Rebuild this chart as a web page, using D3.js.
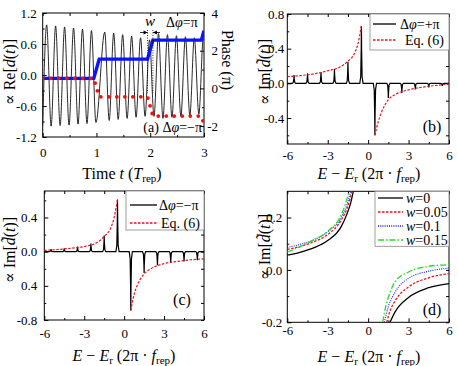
<!DOCTYPE html>
<html>
<head>
<meta charset="utf-8">
<script src="https://cdn.jsdelivr.net/npm/d3@7"></script>
<style>
  body { margin: 0; background: #fff; }
  svg { display: block; }
</style>
</head>
<body>
<svg id="fig" width="458" height="366"></svg>
<script>
// ---- panel (a): time trace, extrema of Re[d(t)]
const aTime = [0, 0.074, 0.157, 0.24, 0.324, 0.407, 0.49, 0.574, 0.657, 0.74, 0.824, 0.907, 0.99,
  1.154, 1.237, 1.32, 1.404, 1.487, 1.57, 1.654, 1.737, 1.82, 1.904, 1.987, 2.07,
  2.154, 2.237, 2.32, 2.404, 2.487, 2.57, 2.654, 2.737, 2.82, 2.904, 2.987, 3.0];
const aRe = [-0.98, 0.97, -0.99, 0.95, -0.98, 0.93, -0.97, 0.91, -0.95, 0.89, -0.94, 0.86, -0.92,
  0.83, -0.88, 0.81, -0.86, 0.78, -0.84, 0.75, -0.82, 0.72, -0.8, 0.68, -0.8,
  0.8, -0.84, 0.78, -0.82, 0.76, -0.8, 0.74, -0.78, 0.72, -0.76, 0.7, 0.68];
const phaseTime = [0, 0.95, 1.05, 1.95, 2.05, 2.95, 3.0];
const phasePlus = [0.53, 0.53, 1.55, 1.55, 2.56, 2.56, 3.06];
const phaseMinus = [0.53, 0.53, -0.45, -0.45, -1.47, -1.47, -1.9];
const tTicks = [0, 1, 2, 3];
const reTicks = [-1.2, -0.6, 0, 0.6, 1.2];
const reTickLabels = ["-1.2", "-0.6", "0.0", "0.6", "1.2"];
const phaseTicks = [-2, 0, 2, 4];
const phaseTickLabels = ["-2", "0", "2", "4"];

// ---- panels (b),(c): spike positions and heights, Eq. (6) curve samples
const spikeE = [-5.5, -4.5, -3.5, -2.5, -1.5, -0.5, 0.5, 1.5, 2.5, 3.5, 4.5, 5.5];
const spikeB = [0.095, 0.115, 0.13, 0.165, 0.25, 0.66, -0.6, -0.17, -0.11, -0.07, -0.046, -0.03];
const spikeC = [0.03, 0.04, 0.06, 0.095, 0.19, 0.61, -0.69, -0.25, -0.16, -0.13, -0.115, -0.1];
const eqLeftE = [-6, -5, -4, -3, -2, -1.5, -1, -0.75, -0.5];
const eqRightE = [0.5, 0.75, 1, 1.5, 2, 3, 4, 5, 6];
const eqBLeft = [0.078, 0.09, 0.11, 0.145, 0.195, 0.255, 0.35, 0.46, 0.67];
const eqBRight = [-0.6, -0.44, -0.33, -0.19, -0.13, -0.075, -0.045, -0.025, -0.01];
const eqCLeft = [0.015, 0.025, 0.04, 0.06, 0.11, 0.18, 0.28, 0.4, 0.61];
const eqCRight = [-0.69, -0.5, -0.39, -0.26, -0.2, -0.14, -0.115, -0.095, -0.085];

// ---- panel (d): four widths w
const wLabels = ["0", "0.05", "0.1", "0.15"];
const dLeftE = [
  [-6, -5, -4, -3, -2, -1.6, -1.3, -1.1],
  [-6, -5, -4, -3, -2, -1.5, -1.2],
  [-6, -5, -4, -3, -2, -1.6, -1.3],
  [-6, -5, -4, -3, -2, -1.7, -1.42]
];
const dLeftV = [
  [0.056, 0.068, 0.085, 0.112, 0.165, 0.21, 0.255, 0.3],
  [0.078, 0.09, 0.108, 0.135, 0.19, 0.245, 0.3],
  [0.086, 0.098, 0.116, 0.145, 0.2, 0.245, 0.3],
  [0.068, 0.09, 0.115, 0.148, 0.21, 0.25, 0.3]
];
const dRightE = [
  [1.62, 2, 3, 4.5, 6],
  [1.38, 1.6, 2, 3, 4.5, 6],
  [1.2, 1.5, 2, 3, 4.5, 6],
  [1.08, 1.3, 1.6, 2, 3, 4.5, 6]
];
const dRightV = [
  [-0.2, -0.16, -0.105, -0.068, -0.052],
  [-0.2, -0.16, -0.118, -0.065, -0.03, -0.014],
  [-0.2, -0.14, -0.085, -0.032, -0.005, 0.007],
  [-0.2, -0.14, -0.09, -0.045, -0.008, 0.014, 0.02]
];

const eTicks = [-6, -3, 0, 3, 6];
const eTickLabels = ["-6", "-3", "0", "3", "6"];
const eMinor = [-4.5, -1.5, 1.5, 4.5];

const FONT = "'Liberation Serif', 'DejaVu Serif', serif";
const svg = d3.select("#fig");
svg.append("rect").attr("width", 458).attr("height", 366).attr("fill", "#fff");

const RED = "#e8141c";

// frame with inward ticks on all sides
function frame(g, x, y, o) {
  const [x0, x1] = x.range(), [y0, y1] = y.range();
  const clean = s => s.select(".domain").remove();
  g.append("g").attr("transform", `translate(0,${y0})`)
    .call(d3.axisBottom(x).tickValues(o.xt).tickSize(-4).tickPadding(o.xPad).tickFormat((d, i) => o.xl[i])).call(clean);
  g.append("g").attr("transform", `translate(0,${y0})`)
    .call(d3.axisBottom(x).tickValues(o.xm).tickSize(-2).tickFormat("")).call(clean);
  g.append("g").attr("transform", `translate(0,${y1})`)
    .call(d3.axisTop(x).tickValues(o.xt.concat(o.xm)).tickSize(-3).tickFormat("")).call(clean);
  g.append("g").attr("transform", `translate(${x0},0)`)
    .call(d3.axisLeft(y).tickValues(o.yt).tickSize(-4).tickPadding(o.yPad).tickFormat((d, i) => o.yl[i])).call(clean);
  g.append("g").attr("transform", `translate(${x0},0)`)
    .call(d3.axisLeft(y).tickValues(o.ym).tickSize(-2).tickFormat("")).call(clean);
  if (!o.noRight) {
    g.append("g").attr("transform", `translate(${x1},0)`)
      .call(d3.axisRight(y).tickValues(o.yt.concat(o.ym)).tickSize(-3).tickFormat("")).call(clean);
  }
  g.append("rect").attr("x", x0).attr("y", y1).attr("width", x1 - x0).attr("height", y0 - y1)
    .attr("fill", "none").attr("stroke", "#000").attr("stroke-width", 1);
}

function clip(id, x, y) {
  const [x0, x1] = x.range(), [y0, y1] = y.range();
  svg.append("clipPath").attr("id", id).append("rect")
    .attr("x", x0).attr("y", y1).attr("width", x1 - x0).attr("height", y0 - y1);
  return `url(#${id})`;
}

function eLabel(g, cx, cy) {
  const t = g.append("text").attr("x", cx).attr("y", cy).attr("text-anchor", "middle").attr("font-size", 16);
  t.append("tspan").attr("font-style", "italic").text("E");
  t.append("tspan").text(" − ");
  t.append("tspan").attr("font-style", "italic").text("E");
  t.append("tspan").attr("font-size", 11).attr("dy", 3).text("r");
  t.append("tspan").attr("dy", -3).text(" (2π · ");
  t.append("tspan").attr("font-style", "italic").text("f");
  t.append("tspan").attr("font-size", 11).attr("dy", 3).text("rep");
  t.append("tspan").attr("dy", -3).text(")");
}

function imLabel(g, cx, cy) {
  const t = g.append("text").attr("transform", `translate(${cx},${cy}) rotate(-90)`)
    .attr("text-anchor", "middle").attr("font-size", 16);
  t.append("tspan").text("∝ Im[");
  t.append("tspan").attr("font-style", "italic").text("d\u0303");
  t.append("tspan").text("(");
  t.append("tspan").attr("font-style", "italic").text("t");
  t.append("tspan").text(")]");
}

function legend(g, bx, by, bw, bh, rows) {
  g.append("rect").attr("x", bx).attr("y", by).attr("width", bw).attr("height", bh)
    .attr("fill", "#fff").attr("stroke", "#888").attr("stroke-width", 0.8);
  rows.forEach(r => {
    g.append("line").attr("x1", r.lx0).attr("x2", r.lx1).attr("y1", r.y).attr("y2", r.y)
      .attr("stroke", r.color).attr("stroke-width", r.width || 1.3).attr("stroke-dasharray", r.dash || null);
    const t = g.append("text").attr("x", r.tx).attr("y", r.y + 4.5).attr("font-size", 14);
    r.text(t);
  });
}

function dphi(t, sign) {
  t.append("tspan").text("Δ");
  t.append("tspan").attr("font-style", "italic").text("φ");
  t.append("tspan").text("=" + sign + "π");
}

// ================= (a) =================
{
  const g = svg.append("g");
  const x = d3.scaleLinear().domain([0, 3]).range([42.7, 204]);
  const y = d3.scaleLinear().domain([-1.2, 1.2]).range([137, 13]);
  const yR = d3.scaleLinear().domain([-2.58, 4]).range([137, 13]);
  frame(g, x, y, {
    xt: tTicks, xl: tTicks.map(String), xm: [0.5, 1.5, 2.5], xPad: 11,
    yt: reTicks, yl: reTickLabels, ym: [-0.9, -0.3, 0.3, 0.9], yPad: 6, noRight: true
  });
  g.append("g").attr("transform", "translate(204,0)")
    .call(d3.axisRight(yR).tickValues(phaseTicks).tickSize(-4).tickFormat(""))
    .select(".domain").remove();
  g.append("g").attr("transform", "translate(204,0)")
    .call(d3.axisRight(yR).tickValues([-1, 1, 3]).tickSize(-2).tickFormat(""))
    .select(".domain").remove();
  g.selectAll(null).data(phaseTicks).join("text")
    .attr("x", 218).attr("y", d => yR(d) + 4.5).attr("text-anchor", "end").attr("font-size", 13)
    .attr("class", "phase-lab").text((d, i) => phaseTickLabels[i]);
  const cp = clip("clipA", x, y);

  const osc = d3.line().x((d, i) => x(aTime[i])).y(d => y(d)).curve(d3.curveMonotoneX);
  g.append("path").attr("d", osc(aRe)).attr("clip-path", cp)
    .attr("fill", "none").attr("stroke", "#111").attr("stroke-width", 0.9);

  const ph = d3.line().x((d, i) => x(phaseTime[i])).y(d => yR(d));
  g.append("path").attr("d", ph(phasePlus)).attr("clip-path", cp)
    .attr("fill", "none").attr("stroke", "#0a14ff").attr("stroke-width", 3.4);
  g.append("path").attr("d", ph(phaseMinus)).attr("clip-path", cp)
    .attr("fill", "none").attr("stroke", "#ff0a0a").attr("stroke-width", 3.8)
    .attr("stroke-dasharray", "0,8").attr("stroke-linecap", "round");

  // w marker
  [1.95, 2.05].forEach(t => g.append("line").attr("x1", x(t)).attr("x2", x(t)).attr("y1", 30).attr("y2", 93)
    .attr("stroke", "#000").attr("stroke-width", 0.8).attr("stroke-dasharray", "1,1.5"));
  const ay = 32.5;
  g.append("line").attr("x1", 140).attr("x2", x(1.95)).attr("y1", ay).attr("y2", ay).attr("stroke", "#000").attr("stroke-width", 0.8);
  g.append("line").attr("x1", 160).attr("x2", x(2.05)).attr("y1", ay).attr("y2", ay).attr("stroke", "#000").attr("stroke-width", 0.8);
  g.append("path").attr("d", `M${x(1.95)},${ay}l-4,-2v4z`).attr("fill", "#000");
  g.append("path").attr("d", `M${x(2.05)},${ay}l4,-2v4z`).attr("fill", "#000");
  g.append("text").attr("x", 150).attr("y", 26).attr("text-anchor", "middle")
    .attr("font-size", 15).attr("font-style", "italic").text("w");
  const t1 = g.append("text").attr("x", 166).attr("y", 27).attr("font-size", 14);
  dphi(t1, "");
  const t2 = g.append("text").attr("x", 202).attr("y", 132).attr("text-anchor", "end").attr("font-size", 14);
  t2.append("tspan").text("(a) ");
  dphi(t2, "−");

  const xl = g.append("text").attr("x", 122).attr("y", 179).attr("text-anchor", "middle").attr("font-size", 16);
  xl.append("tspan").text("Time ");
  xl.append("tspan").attr("font-style", "italic").text("t");
  xl.append("tspan").text(" (");
  xl.append("tspan").attr("font-style", "italic").text("T");
  xl.append("tspan").attr("font-size", 11).attr("dy", 3).text("rep");
  xl.append("tspan").attr("dy", -3).text(")");

  const yl = g.append("text").attr("transform", "translate(15,72) rotate(-90)")
    .attr("text-anchor", "middle").attr("font-size", 16);
  yl.append("tspan").text("∝ Re[");
  yl.append("tspan").attr("font-style", "italic").text("d");
  yl.append("tspan").text("(");
  yl.append("tspan").attr("font-style", "italic").text("t");
  yl.append("tspan").text(")]");

  g.append("text").attr("transform", "translate(222,60) rotate(90)")
    .attr("text-anchor", "middle").attr("font-size", 16).text("Phase (π)");
}

// spikes + Eq.(6) panels
function spikePanel(id, x, y, heights, eqL, eqR, opts) {
  const g = svg.append("g");
  frame(g, x, y, opts);
  const cp = clip(id, x, y);
  const line = d3.line().x(d => x(d[0])).y(d => y(d[1]));
  const pts = [[-6, 0]];
  spikeE.forEach((e, i) => {
    const h = heights[i];
    pts.push([e - 0.12, 0], [e - 0.05, h * 0.12], [e - 0.015, h * 0.6], [e, h],
      [e + 0.015, h * 0.6], [e + 0.05, h * 0.12], [e + 0.12, 0]);
  });
  pts.push([6, 0]);
  g.append("path").attr("d", line(pts)).attr("clip-path", cp)
    .attr("fill", "none").attr("stroke", "#000").attr("stroke-width", 1.2);
  const curve = d3.line().x(d => x(d[0])).y(d => y(d[1])).curve(d3.curveMonotoneX);
  [[eqLeftE, eqL], [eqRightE, eqR]].forEach(([es, vs]) => {
    g.append("path").attr("d", curve(es.map((e, i) => [e, vs[i]]))).attr("clip-path", cp)
      .attr("fill", "none").attr("stroke", RED).attr("stroke-width", 1.2).attr("stroke-dasharray", "2.5,1.5");
  });
  return g;
}

// ================= (b) =================
{
  const x = d3.scaleLinear().domain([-6, 6]).range([287.3, 449]);
  const y = d3.scaleLinear().domain([-0.7, 0.8]).range([144, 14]);
  const g = spikePanel("clipB", x, y, spikeB, eqBLeft, eqBRight, {
    xt: eTicks, xl: eTickLabels, xm: eMinor, xPad: 7,
    yt: [-0.4, 0, 0.4, 0.8], yl: ["-0.4", "0.0", "0.4", "0.8"], ym: [-0.6, -0.2, 0.2, 0.6], yPad: 3
  });
  legend(g, 370, 14, 79, 36, [
    { y: 24, lx0: 373, lx1: 396, tx: 400, color: "#000", text: t => dphi(t, "+") },
    { y: 40, lx0: 373, lx1: 396, tx: 405, color: RED, dash: "2.5,1.5", text: t => t.text("Eq. (6)") }
  ]);
  g.append("text").attr("x", 432).attr("y", 132).attr("text-anchor", "middle").attr("font-size", 16).text("(b)");
  eLabel(g, 369, 179);
  imLabel(g, 270, 72);
}

// ================= (c) =================
{
  const x = d3.scaleLinear().domain([-6, 6]).range([44.3, 204]);
  const y = d3.scaleLinear().domain([-0.8, 0.71]).range([320, 191]);
  const g = spikePanel("clipC", x, y, spikeC, eqCLeft, eqCRight, {
    xt: eTicks, xl: eTickLabels, xm: eMinor, xPad: 9,
    yt: [-0.8, -0.4, 0, 0.4], yl: ["-0.8", "0.4", "0.0", "0.4"], ym: [-0.6, -0.2, 0.2, 0.6], yPad: 7
  });
  legend(g, 126, 191, 78, 39, [
    { y: 205, lx0: 130, lx1: 157, tx: 159, color: "#000", text: t => dphi(t, "−") },
    { y: 223, lx0: 130, lx1: 157, tx: 161, color: RED, dash: "2.5,1.5", text: t => t.text("Eq. (6)") }
  ]);
  g.append("text").attr("x", 182).attr("y", 305).attr("text-anchor", "middle").attr("font-size", 16).text("(c)");
  eLabel(g, 124, 361);
  imLabel(g, 15, 250);
}

// ================= (d) =================
{
  const g = svg.append("g");
  const x = d3.scaleLinear().domain([-6, 6]).range([287.3, 449]);
  const y = d3.scaleLinear().domain([-0.2, 0.3]).range([322.3, 191.3]);
  frame(g, x, y, {
    xt: eTicks, xl: eTickLabels, xm: eMinor, xPad: 3,
    yt: [-0.2, 0, 0.2], yl: ["-0.2", "0.0", "0.2"], ym: [-0.1, 0.1], yPad: 5
  });
  const cp = clip("clipD", x, y);
  const colors = ["#000", RED, "#1a1aff", "#22dd22"];
  const dashes = [null, "2.5,1.5", "1,1.2", "6,2,1.5,2"];
  const curve = d3.line().x(d => x(d[0])).y(d => y(d[1])).curve(d3.curveMonotoneX);
  wLabels.forEach((w, k) => {
    [[dLeftE[k], dLeftV[k]], [dRightE[k], dRightV[k]]].forEach(([es, vs]) => {
      g.append("path").attr("d", curve(es.map((e, i) => [e, vs[i]]))).attr("clip-path", cp)
        .attr("fill", "none").attr("stroke", colors[k]).attr("stroke-width", k === 2 ? 1.1 : 1.3)
        .attr("stroke-dasharray", dashes[k]);
    });
  });
  const rowY = [198, 212, 226, 240];
  legend(g, 375, 191.3, 74, 55, wLabels.map((w, k) => ({
    y: rowY[k], lx0: 378, lx1: 403, tx: 406, color: colors[k], dash: dashes[k],
    width: k === 3 ? 1.6 : 1.3,
    text: t => { t.append("tspan").attr("font-style", "italic").text("w"); t.append("tspan").text("=" + w); }
  })));
  g.append("text").attr("x", 432).attr("y", 315).attr("text-anchor", "middle").attr("font-size", 16).text("(d)");
  eLabel(g, 369, 362);
  imLabel(g, 270, 247);
}

// serif everywhere (d3 axes set sans-serif on their groups)
svg.selectAll("g").attr("font-family", FONT);
svg.selectAll("text").attr("font-family", FONT).attr("fill", "#000");
svg.selectAll(".tick text").attr("font-size", 13);
svg.selectAll(".tick line").attr("stroke", "#000");
</script>
</body>
</html>
